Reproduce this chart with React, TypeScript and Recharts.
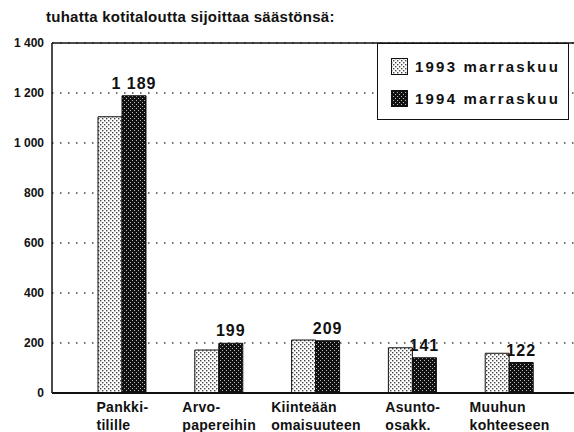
import { BarChart, Bar, XAxis, YAxis, CartesianGrid, Legend, LabelList, ReferenceLine } from 'recharts'

const categories = ['Pankki-|tilille', 'Arvo-|papereihin', 'Kiinteään|omaisuuteen', 'Asunto-|osakk.', 'Muuhun|kohteeseen']
const values1993 = [1105, 172, 212, 181, 159]
const values1994 = [1189, 199, 209, 141, 122]
const yTicks = [0, 200, 400, 600, 800, 1000, 1200, 1400]
const seriesNames = ['1993 marraskuu', '1994 marraskuu']
const title = 'tuhatta kotitaloutta sijoittaa säästönsä:'

const FONT = '"Liberation Sans", Arial, Helvetica, sans-serif'
const CAT_FONT = `bold 14px ${FONT}`
const CAT_SPACING = 0.3

const rows = categories.map((c, i) => ({ cat: c, v1993: values1993[i], v1994: values1994[i] }))

// 1 189 style numbers
const fmt = (v: number) => (v >= 1000 ? `${Math.floor(v / 1000)} ${String(v % 1000).padStart(3, '0')}` : String(v))

let ctx: CanvasRenderingContext2D | null = null
function textWidth(s: string) {
  if (!ctx) ctx = document.createElement('canvas').getContext('2d')
  if (!ctx) return s.length * 8
  ctx.font = CAT_FONT
  return ctx.measureText(s).width + s.length * CAT_SPACING
}

// two-line label, lines left aligned, block centred under the group
function CatTick({ x, y, payload }: any) {
  const lines = String(payload.value).split('|')
  const w = Math.max(...lines.map(textWidth))
  const left = x - w / 2
  return (
    <text x={left} y={y} textAnchor="start" fontFamily={FONT} fontWeight="bold" fontSize={14} letterSpacing={CAT_SPACING} fill="#111">
      <tspan x={left} dy={11}>{lines[0]}</tspan>
      <tspan x={left} dy={18}>{lines[1]}</tspan>
    </text>
  )
}

function ValueLabel({ x, y, width, value }: any) {
  return (
    <text x={x + width / 2} y={y - 7} textAnchor="middle" fontFamily={FONT} fontWeight="bold" fontSize={16} letterSpacing={1} fill="#111">
      {fmt(Number(value))}
    </text>
  )
}

function LegendBox() {
  const fills = ['url(#dots93)', 'url(#dots94)']
  return (
    <div style={{ border: '1.5px solid #111', width: 192, height: 77, boxSizing: 'border-box', background: '#fff', fontFamily: FONT }}>
      {seriesNames.map((n, i) => (
        <div key={n} style={{ display: 'flex', alignItems: 'center', position: 'absolute', left: 14, top: 15 + i * 32 }}>
          <svg width={17} height={17} style={{ marginRight: 7 }}>
            <rect x={0.5} y={0.5} width={16} height={16} fill={fills[i]} stroke="#111" />
          </svg>
          <span style={{ fontWeight: 'bold', fontSize: 15, letterSpacing: 2.2, color: '#111' }}>{n}</span>
        </div>
      ))}
    </div>
  )
}

export default function App() {
  return (
    <div style={{ position: 'absolute', left: 0, top: 0, width: 574, height: 432, background: '#fff' }}>
      <div style={{ position: 'absolute', left: 46, top: 8, fontFamily: FONT, fontWeight: 'bold', fontSize: 15, letterSpacing: 0.25, color: '#111' }}>
        {title}
      </div>
      <BarChart width={574} height={432} data={rows} margin={{ top: 43, right: 0, bottom: 0, left: 0 }} barGap={0} barCategoryGap={24}>
        <defs>
          <pattern id="dots93" patternUnits="userSpaceOnUse" width={4} height={4}>
            <rect width={4} height={4} fill="#fff" />
            <rect x={0} y={0} width={1.4} height={1.4} fill="#444" />
            <rect x={2} y={2} width={1.4} height={1.4} fill="#444" />
          </pattern>
          <pattern id="dots94" patternUnits="userSpaceOnUse" width={4} height={4}>
            <rect width={4} height={4} fill="#111" />
            <rect x={0} y={0} width={1} height={1} fill="#bbb" />
            <rect x={2} y={2} width={1} height={1} fill="#bbb" />
          </pattern>
        </defs>
        <CartesianGrid vertical={false} stroke="#444" strokeWidth={1.5} strokeDasharray="1.5 6.5" />
        <XAxis
          dataKey="cat"
          height={39}
          padding={{ left: 22, right: 16 }}
          axisLine={{ stroke: '#111', strokeWidth: 2 }}
          tickLine={false}
          interval={0}
          tick={<CatTick />}
        />
        <YAxis
          width={52}
          domain={[0, 1400]}
          ticks={yTicks}
          interval={0}
          tickFormatter={fmt}
          axisLine={{ stroke: '#111', strokeWidth: 1.5 }}
          tickLine={false}
          tick={{ fontFamily: FONT, fontWeight: 'bold', fontSize: 12, fill: '#111' }}
        />
        <ReferenceLine y={1400} stroke="#111" strokeWidth={1.5} />
        <Legend
          layout="vertical"
          align="center"
          verticalAlign="middle"
          wrapperStyle={{ left: 377, top: 43, width: 194 }}
          content={() => <LegendBox />}
        />
        <Bar dataKey="v1993" name={seriesNames[0]} fill="url(#dots93)" stroke="#111" strokeWidth={1} isAnimationActive={false} />
        <Bar dataKey="v1994" name={seriesNames[1]} fill="url(#dots94)" stroke="#111" strokeWidth={1} isAnimationActive={false}>
          <LabelList dataKey="v1994" content={<ValueLabel />} />
        </Bar>
      </BarChart>
    </div>
  )
}
